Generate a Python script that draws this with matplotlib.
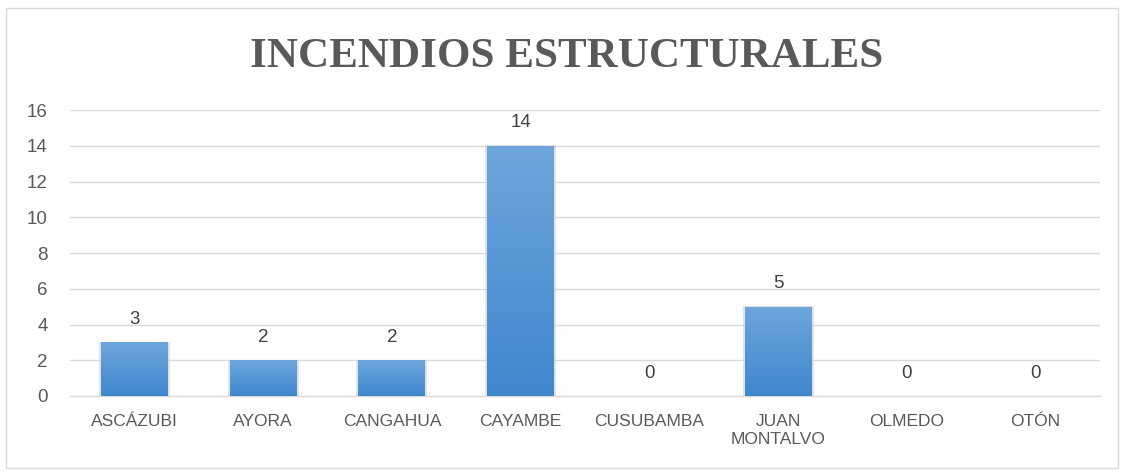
import matplotlib
matplotlib.use("Agg")
import matplotlib.pyplot as plt
import numpy as np
from matplotlib.patches import Rectangle
from matplotlib.colors import LinearSegmentedColormap

categories = ["ASCÁZUBI", "AYORA", "CANGAHUA", "CAYAMBE", "CUSUBAMBA", "JUAN\nMONTALVO", "OLMEDO", "OTÓN"]
values = [3, 2, 2, 14, 0, 5, 0, 0]
yticks = [0, 2, 4, 6, 8, 10, 12, 14, 16]
title = "INCENDIOS ESTRUCTURALES"

txt = "#595959"
fig = plt.figure(figsize=(11.26, 4.76), dpi=100)
fig.patches.append(Rectangle((6/1126, 8/476), 1112/1126, 460/476, transform=fig.transFigure,
                             fill=False, edgecolor="#d9d9d9", linewidth=1))
ax = fig.add_axes([70/1126, 1 - 396/476, 1030/1126, 286/476])
x = np.arange(len(categories))
bars = ax.bar(x, values, width=0.52, color="#5b9bd5", zorder=3, edgecolor="none")

grad = np.linspace(0, 1, 256).reshape(-1, 1)
cmap = LinearSegmentedColormap.from_list("g", ["#3f87cc", "#6ea6dc"])
for b, v in zip(bars, values):
    h = b.get_height()
    x0 = b.get_x(); w = b.get_width()
    if h > 0:
        sh = Rectangle((x0 - 0.015, 0), w + 0.03, h + 0.03, facecolor="#d0d0d0", alpha=0.6,
                       edgecolor="none", zorder=2)
        ax.add_patch(sh)
        im = ax.imshow(grad, cmap=cmap, aspect="auto", extent=(x0, x0 + w, 0, h),
                       origin="lower", zorder=4)
        im.set_clip_path(b)
    ax.text(x0 + w / 2, h + 0.8, f"{v}", ha="center", va="bottom",
            fontsize=13.5, color="#404040", family="Liberation Sans", zorder=5)

ax.set_xlim(-0.5, len(categories) - 0.5)
ax.set_ylim(0, 16)
ax.set_yticks(yticks)
ax.set_xticks(x)
ax.set_xticklabels(categories, fontsize=12.5, color=txt, family="Liberation Sans", linespacing=1.25)
ax.tick_params(axis="y", labelsize=13.5, labelcolor=txt, length=0, pad=16)
ax.tick_params(axis="x", length=0, pad=13)
for lab in ax.get_yticklabels():
    lab.set_family("Liberation Sans")
ax.grid(axis="y", color="#d9d9d9", linewidth=1, zorder=0)
for s in ["top", "right", "left"]:
    ax.spines[s].set_visible(False)
ax.spines["bottom"].set_color("#d9d9d9")
ax.spines["bottom"].set_linewidth(1)
ax.set_facecolor("none")

fig.text(567/1126, 1 - 57/476, title, ha="center", va="center", fontsize=31, fontweight="bold",
         color=txt, family="Liberation Serif")
fig.savefig("out.png", dpi=100)
